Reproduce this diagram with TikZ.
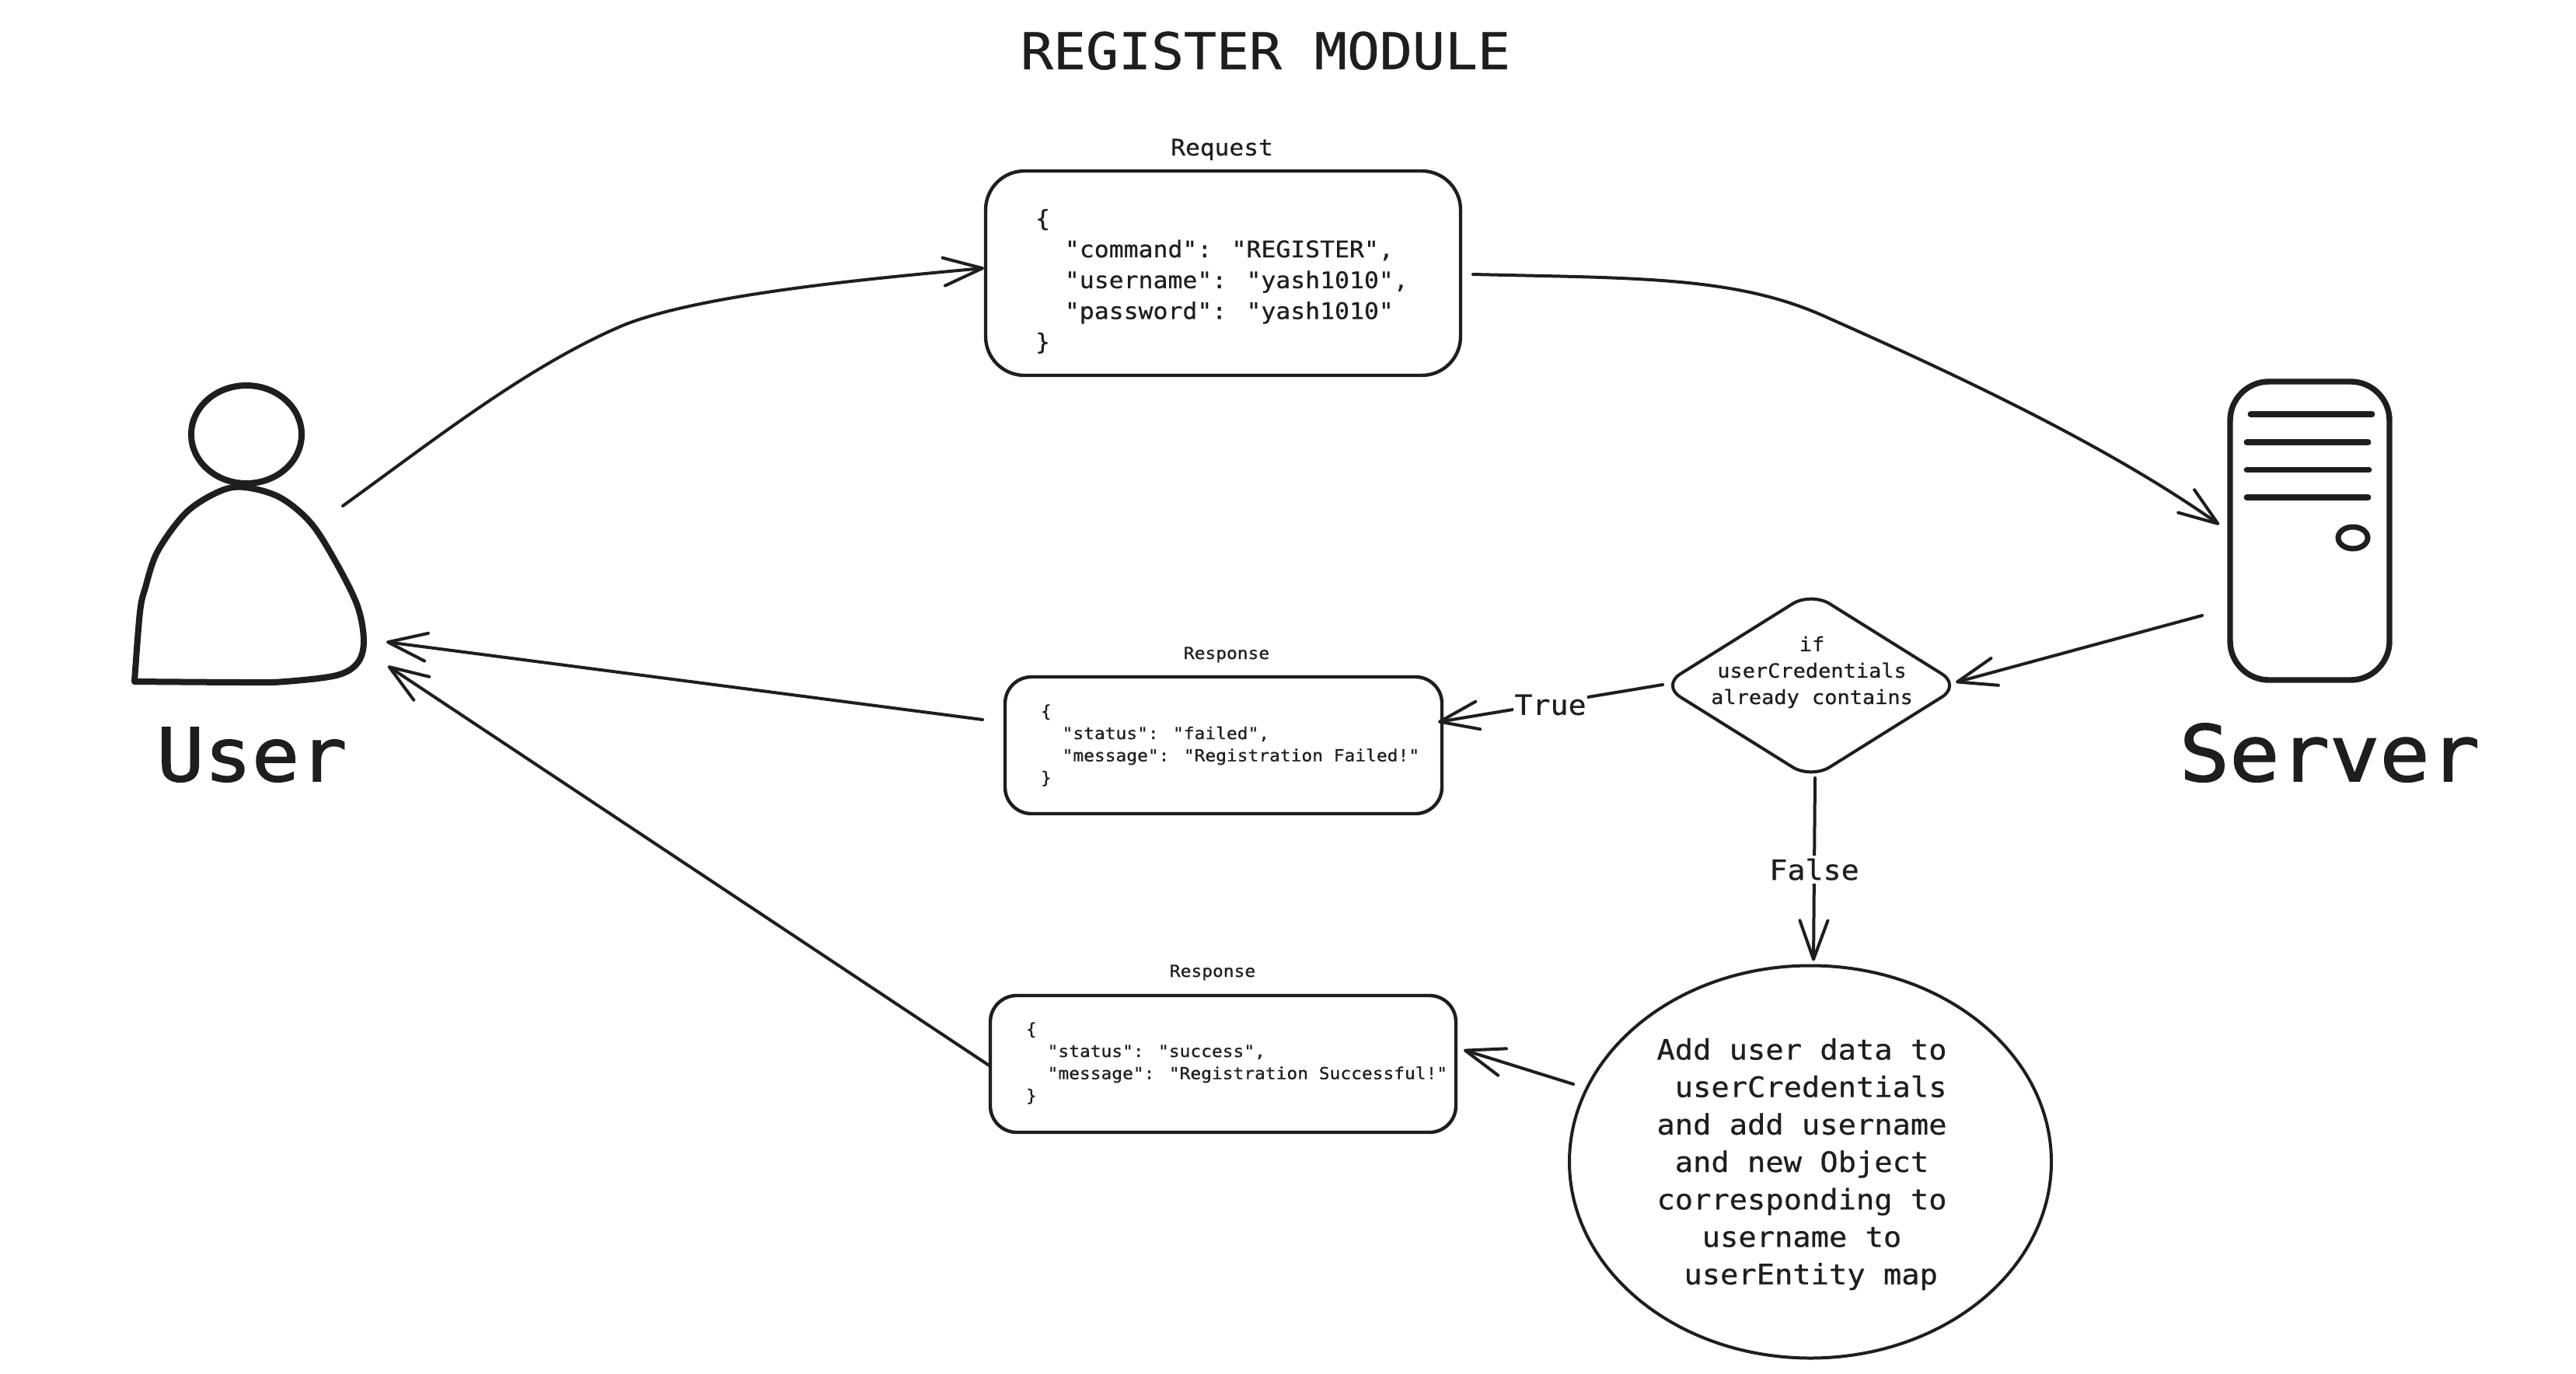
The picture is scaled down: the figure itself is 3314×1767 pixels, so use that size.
\documentclass[tikz,border=0pt]{standalone}
\usepackage{fontspec}
\usetikzlibrary{arrows.meta,shapes.geometric}
\newfontfamily\cas[FakeStretch=1.07,FakeBold=0.6]{DejaVu Sans Mono}
\newfontfamily\casb[FakeStretch=1.07,FakeBold=1.6]{DejaVu Sans Mono}
\definecolor{ink}{HTML}{1E1E1E}
\tikzset{
  every node/.style={text=ink,outer sep=0pt,inner sep=0pt},
  txttitle/.style={font=\cas\fontsize{32.6}{40}\selectfont,anchor=base},
  txtuser/.style={font=\casb\fontsize{47.5}{60}\selectfont,anchor=base},
  txtserver/.style={font=\casb\fontsize{50}{60}\selectfont,anchor=base},
  txtreq/.style={font=\cas\fontsize{14.7}{19.85}\selectfont,align=left,anchor=west},
  txtreqlab/.style={font=\cas\fontsize{14.6}{19.85}\selectfont,anchor=base},
  txtsmall/.style={font=\cas\fontsize{10.7}{14.25}\selectfont,align=left,anchor=west},
  txtsmalllab/.style={font=\cas\fontsize{10.7}{14.25}\selectfont,anchor=base},
  txtdia/.style={font=\cas\fontsize{12.6}{17}\selectfont,align=center},
  txtell/.style={font=\cas\fontsize{18.1}{24.1}\selectfont,align=center},
  edgelab/.style={font=\cas\fontsize{17.9}{22}\selectfont,fill=white,inner xsep=0.5pt,inner ysep=2pt},
  roundbox/.style={draw=ink,line width=2.2pt,rectangle,rounded corners=#1},
  thick fig/.style={draw=ink,line width=4pt,line join=round,line cap=round},
  conn/.style={draw=ink,line width=2pt,line cap=round,line join=round,
    -{Straight Barb[round,length=25pt,width=18pt]}},
}
\begin{document}
\begin{tikzpicture}[x=0.5pt,y=-0.5pt]
\fill[white] (0,0) rectangle (3314,1767);
\useasboundingbox (0,0) rectangle (3314,1767);

\node[txttitle] (title) at (1628,89) {REGISTER MODULE};

% User
\node[minimum width=150pt,minimum height=130pt] (userfig) at (320,750) {};
\node[ellipse,thick fig,minimum width=71pt,minimum height=63pt] (head) at (317,559) {};
\draw[thick fig] plot[smooth,tension=0.55] coordinates {(173,877) (180,788) (187,756) (203,709) (240,659) (283,632) (315,627) (360,640) (400,673) (433,725) (460,780) (468,825) (460,853) (433,869) (367,877) (317,878) (173,877)};
\node[txtuser] (userlab) at (324,1005) {User};

% Server
\node[roundbox=25pt,line width=3.7pt,minimum width=102.5pt,minimum height=192pt] (srv) at (2971.5,683) {};
\draw[thick fig,line width=3.9pt] ([shift={(-76,-150)}]srv.center) -- ([shift={(80,-150)}]srv.center);
\draw[thick fig,line width=3.9pt] ([shift={(-81,-114)}]srv.center) -- ([shift={(75,-114)}]srv.center);
\draw[thick fig,line width=3.9pt] ([shift={(-81,-78.5)}]srv.center) -- ([shift={(76,-78.5)}]srv.center);
\draw[thick fig,line width=3.9pt] ([shift={(-81,-43)}]srv.center) -- ([shift={(75,-43)}]srv.center);
\node[ellipse,draw=ink,line width=3.5pt,minimum width=19pt,minimum height=14pt] (led) at (3027,692) {};
\node[txtserver] (srvlab) at (2997,1005) {Server};

% Request
\node[roundbox=25pt,minimum width=305.5pt,minimum height=131.5pt] (req) at (1573.5,351.5) {};
\node[txtreqlab] (reqlab) at (1572,200) {Request};
\node[txtreq] (reqtxt) at (1332,362) {\{\\\phantom{xx}"command": "REGISTER",\\\phantom{xx}"username": "yash1010",\\\phantom{xx}"password": "yash1010"\\\}};

% Failed response
\node[roundbox=17pt,minimum width=281pt,minimum height=88pt] (fail) at (1574,959) {};
\node[txtsmalllab] (faillab) at (1578,848) {Response};
\node[txtsmall] (failtxt) at (1339,959) {\{\\\phantom{xx}"status": "failed",\\\phantom{xx}"message": "Registration Failed!"\\\}};

% Success response
\node[roundbox=17pt,minimum width=299.5pt,minimum height=88pt] (succ) at (1573.5,1369) {};
\node[txtsmalllab] (succlab) at (1560,1257) {Response};
\node[txtsmall] (succtxt) at (1320,1368) {\{\\\phantom{xx}"status": "success",\\\phantom{xx}"message": "Registration Successful!"\\\}};

% Decision
\node[diamond,draw=ink,line width=2pt,rounded corners=14pt,minimum width=192pt,minimum height=120pt] (dia) at (2330,882) {};
\node[txtdia] (diatxt) at (2331,865) {if\\userCredentials\\already contains};

% Ellipse
\node[ellipse,draw=ink,line width=2pt,minimum width=310pt,minimum height=252.5pt] (ell) at (2329,1495) {};
\node[txtell] (elltxt) at (2318,1498) {Add user data to\\\phantom{x}userCredentials\\and add username\\and new Object\\corresponding to\\username to\\\phantom{x}userEntity map};

% Connectors
\draw[conn] ([shift={(121,-99)}]userfig.center) .. controls (560,565) and (680,470) .. (803,418) .. controls (900,380) and (1100,360) .. ([shift={(-2,-6.5)}]req.west);
\draw[conn] ([shift={(16,1.5)}]req.east) .. controls (2100,358) and (2230,355) .. (2345,406) .. controls (2480,466) and (2700,565) .. ([shift={(-14,-8)}]srv.west);
\draw[conn] ([shift={(-36,109)}]srv.west) -- ([shift={(-6,-4)}]dia.east);
\draw[conn] ([shift={(1,-1)}]dia.west) -- node[edgelab,yshift=-1pt] (truelab) {True} ([shift={(-5,-30)}]fail.east);
\draw[conn] ([shift={(5,-1)}]dia.south) -- node[edgelab] (falselab) {False} ([shift={(4,-6)}]ell.north);
\draw[conn] ([shift={(5,-100)}]ell.west) -- ([shift={(10,-18)}]succ.east);
\draw[conn] ([shift={(-29,-33)}]fail.west) -- ([shift={(27,76)}]userfig.east);
\draw[conn] ([shift={(0,3)}]succ.west) -- ([shift={(29,107)}]userfig.east);
\end{tikzpicture}
\end{document}
